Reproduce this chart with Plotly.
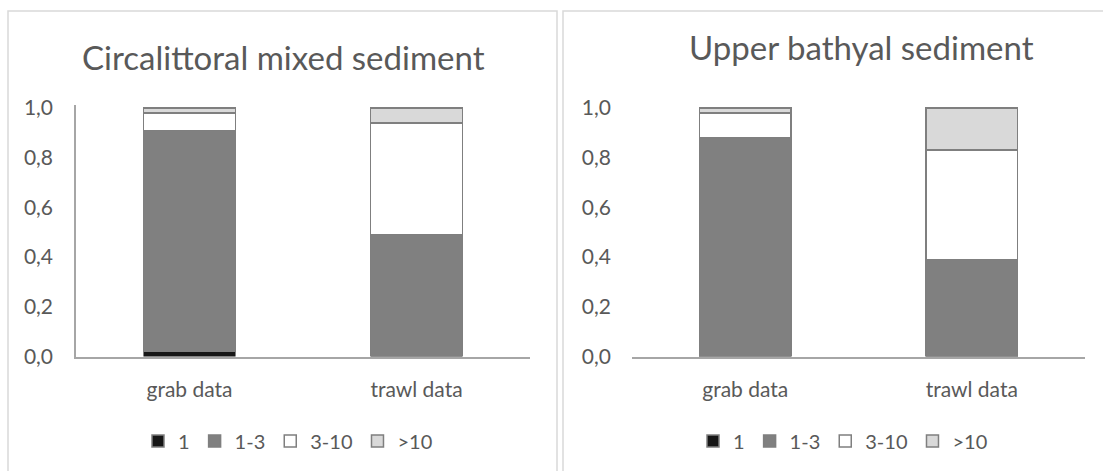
import plotly.graph_objects as go

# Size classes and sampling methods
classes = ["1", "1-3", "3-10", ">10"]
methods = ["grab data", "trawl data"]

# Proportion of records per size class (grab, trawl)
circalittoral = {
    "1": [0.02, 0.00],
    "1-3": [0.89, 0.49],
    "3-10": [0.07, 0.45],
    ">10": [0.02, 0.06],
}
bathyal = {
    "1": [0.00, 0.00],
    "1-3": [0.88, 0.39],
    "3-10": [0.10, 0.44],
    ">10": [0.02, 0.17],
}

panel_titles = ["Circalittoral mixed sediment", "Upper bathyal sediment"]
y_ticks = [0.0, 0.2, 0.4, 0.6, 0.8, 1.0]

fills = {"1": "#161616", "1-3": "#808080", "3-10": "#ffffff", ">10": "#d9d9d9"}
edge = "#7f7f7f"
text_col = "#595959"
FONT = "Lato"

W, H = 1103, 471
fig = go.Figure()

panels = [
    (circalittoral, "x", "y", "legend"),
    (bathyal, "x2", "y2", "legend2"),
]
for data, xa, ya, lg in panels:
    for c in classes:
        fig.add_trace(go.Bar(
            x=methods, y=data[c], name=c,
            xaxis=xa, yaxis=ya, legend=lg,
            marker=dict(color=fills[c], line=dict(color=edge, width=1.5)),
            hoverinfo="skip",
        ))

def px_x(p):
    return p / W

def px_y(p):
    return (H - p) / H

y_dom = [px_y(356.5), px_y(105)]
y_range = [0, 1.012]

axis_font = dict(family=FONT, size=21, color=text_col)
common_x = dict(showgrid=False, showline=True, linecolor="#a6a6a6", linewidth=1.5,
                ticks="", tickfont=axis_font, ticklabelstandoff=14, fixedrange=True)
common_y = dict(range=y_range, tickvals=y_ticks, tickformat=".1f", showgrid=False,
                zeroline=False, ticks="", tickfont=axis_font, fixedrange=True)

legend_common = dict(orientation="h", xanchor="center", yanchor="middle",
                     font=dict(family=FONT, size=20, color=text_col),
                     itemwidth=30, traceorder="normal", bgcolor="rgba(0,0,0,0)")

fig.update_layout(
    width=W, height=H,
    margin=dict(l=0, r=0, t=0, b=0, autoexpand=False),
    paper_bgcolor="white", plot_bgcolor="white",
    barmode="stack", bargap=0.595,
    separators=", ",
    xaxis=dict(domain=[px_x(76), px_x(530)], anchor="y", **common_x),
    yaxis=dict(domain=y_dom, anchor="x", showline=True, linecolor="#a6a6a6",
               linewidth=1.5, ticklabelstandoff=17, **common_y),
    xaxis2=dict(domain=[px_x(632), px_x(1085)], anchor="y2", **common_x),
    yaxis2=dict(domain=y_dom, anchor="x2", showline=False, ticklabelstandoff=20,
                **common_y),
    legend=dict(x=px_x(288), y=px_y(441), **legend_common),
    legend2=dict(x=px_x(843), y=px_y(441), **legend_common),
    font=dict(family=FONT, color=text_col),
)

# Panel titles
fig.add_annotation(text=panel_titles[0], x=px_x(283), y=px_y(57), xref="paper", yref="paper",
                   showarrow=False, xanchor="center", yanchor="middle",
                   font=dict(family=FONT, size=33, color=text_col))
fig.add_annotation(text=panel_titles[1], x=px_x(861), y=px_y(47), xref="paper", yref="paper",
                   showarrow=False, xanchor="center", yanchor="middle",
                   font=dict(family=FONT, size=33, color=text_col))

# Chart-area frames
for x0, x1 in [(8, 557), (563, 1160)]:
    fig.add_shape(type="rect", xref="paper", yref="paper",
                  x0=px_x(x0), x1=px_x(x1), y0=px_y(490), y1=px_y(11),
                  line=dict(color="#d9d9d9", width=1.5), fillcolor="rgba(0,0,0,0)",
                  layer="below")

fig.write_html("out.html")
